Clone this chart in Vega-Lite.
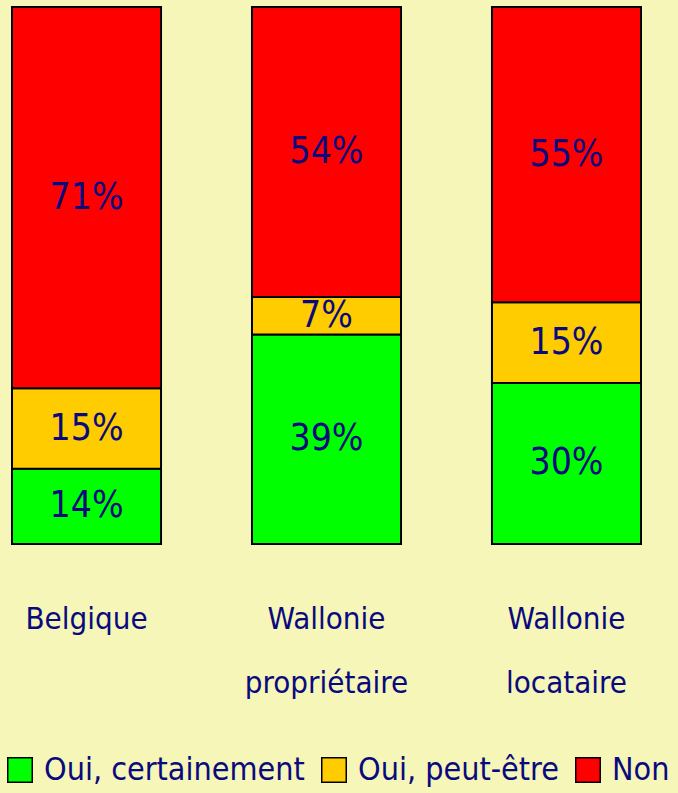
{
  "$schema": "https://vega.github.io/schema/vega-lite/v6.json",
  "autosize": "none",
  "width": 653,
  "height": 537,
  "padding": {"left": 0, "top": 7, "right": 25, "bottom": 249},
  "background": "#F5F6B8",
  "config": {
    "view": {"stroke": null},
    "font": "DejaVu Sans Condensed, Liberation Sans, sans-serif"
  },
  "data": {
    "values": [
      {"region": "Belgique", "answer": "Oui, certainement", "ord": 1, "pct": 14},
      {"region": "Belgique", "answer": "Oui, peut-être", "ord": 2, "pct": 15},
      {"region": "Belgique", "answer": "Non", "ord": 3, "pct": 71},
      {"region": "Wallonie|propriétaire", "answer": "Oui, certainement", "ord": 1, "pct": 39},
      {"region": "Wallonie|propriétaire", "answer": "Oui, peut-être", "ord": 2, "pct": 7},
      {"region": "Wallonie|propriétaire", "answer": "Non", "ord": 3, "pct": 54},
      {"region": "Wallonie|locataire", "answer": "Oui, certainement", "ord": 1, "pct": 30},
      {"region": "Wallonie|locataire", "answer": "Oui, peut-être", "ord": 2, "pct": 15},
      {"region": "Wallonie|locataire", "answer": "Non", "ord": 3, "pct": 55}
    ]
  },
  "transform": [
    {"stack": "pct", "groupby": ["region"], "sort": [{"field": "ord"}], "as": ["y0", "y1"]},
    {"calculate": "(datum.y0 + datum.y1) / 2", "as": "mid"},
    {"calculate": "datum.pct + '%'", "as": "label"}
  ],
  "encoding": {
    "x": {
      "field": "region",
      "type": "nominal",
      "sort": null,
      "scale": {"paddingInner": 0.379, "paddingOuter": 0.05},
      "axis": {
        "title": null,
        "domain": false,
        "ticks": false,
        "labelAngle": 0,
        "labelExpr": "split(datum.label, '|')",
        "labelFont": "DejaVu Sans Condensed, Liberation Sans, sans-serif",
        "labelFontSize": 31,
        "labelColor": "#0A0A7E",
        "labelBaseline": "top",
        "labelPadding": 60,
        "labelLineHeight": 64,
        "labelLimit": 300
      }
    }
  },
  "layer": [
    {
      "mark": {"type": "bar", "stroke": "#000000", "strokeWidth": 2},
      "encoding": {
        "y": {"field": "y1", "type": "quantitative", "scale": {"domain": [0, 100], "nice": false}, "axis": null},
        "y2": {"field": "y0"},
        "color": {
          "field": "answer",
          "type": "nominal",
          "scale": {
            "domain": ["Oui, certainement", "Oui, peut-être", "Non"],
            "range": ["#00FF00", "#FFCC00", "#FF0000"]
          },
          "legend": {
            "title": null,
            "orient": "none",
            "direction": "horizontal",
            "legendX": 4,
            "legendY": 747,
            "symbolType": "square",
            "symbolSize": 600,
            "symbolStrokeColor": "#000000",
            "symbolStrokeWidth": 1.5,
            "symbolOpacity": 1,
            "labelFont": "DejaVu Sans Condensed, Liberation Sans, sans-serif",
            "labelFontSize": 32,
            "labelColor": "#0A0A7E",
            "labelOffset": 8,
            "columnPadding": 13,
            "labelLimit": 400,
            "padding": 0
          }
        }
      }
    },
    {
      "mark": {
        "type": "text",
        "font": "DejaVu Sans Condensed, Liberation Sans, sans-serif",
        "fontSize": 37,
        "color": "#0A0A7E",
        "baseline": "middle",
        "align": "center"
      },
      "encoding": {
        "y": {"field": "mid", "type": "quantitative"},
        "text": {"field": "label", "type": "nominal"},
        "detail": {"field": "answer"}
      }
    }
  ]
}
